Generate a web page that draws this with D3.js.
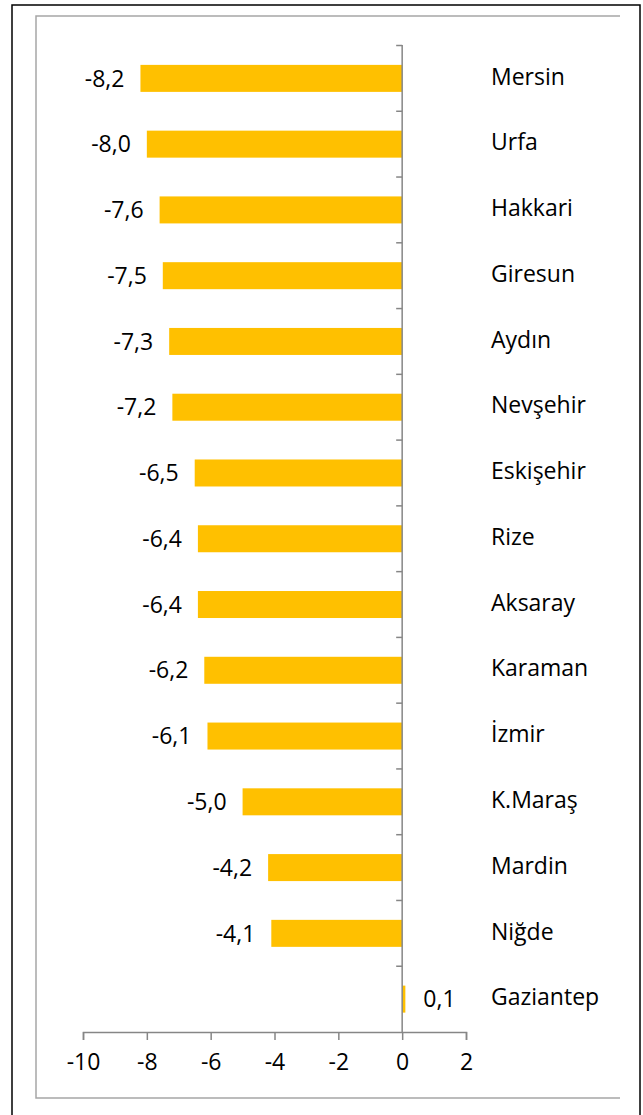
<!DOCTYPE html>
<html>
<head>
<meta charset="utf-8">
<script src="https://cdn.jsdelivr.net/npm/d3@7"></script>
<style>
  body { margin: 0; background: #fff; }
  svg text { font-family: "Open Sans", sans-serif; font-size: 23px; fill: #000; }
</style>
</head>
<body>
<div id="chart"></div>
<script>
// provinces, top to bottom
var provinces = ["Mersin", "Urfa", "Hakkari", "Giresun", "Aydın", "Nevşehir", "Eskişehir",
                 "Rize", "Aksaray", "Karaman", "İzmir", "K.Maraş", "Mardin", "Niğde", "Gaziantep"];
var values = [-8.2, -8.0, -7.6, -7.5, -7.3, -7.2, -6.5, -6.4, -6.4, -6.2, -6.1, -5.0, -4.2, -4.1, 0.1];
var xTicks = [-10, -8, -6, -4, -2, 0, 2];

var W = 643, H = 1115;
var svg = d3.select("#chart").append("svg").attr("width", W).attr("height", H);

// outer black frame
svg.append("rect")
    .attr("x", 12).attr("y", 5)
    .attr("width", 628).attr("height", 1120)
    .attr("fill", "none").attr("stroke", "#000").attr("stroke-width", 1.5);

// inner grey frame (left, top, bottom)
var grey = "#a6a6a6";
svg.append("path")
    .attr("d", "M620,16H36V1098H620")
    .attr("fill", "none").attr("stroke", grey).attr("stroke-width", 1.5);

var x = d3.scaleLinear().domain([-10, 2]).range([83, 466]);
var y = d3.scaleBand().domain(provinces).range([45.5, 1032]).paddingInner(0).paddingOuter(0);
var barH = 27;
var axisCol = "#868686";

// bars
svg.selectAll("rect.bar")
    .data(values)
  .enter().append("rect")
    .attr("class", "bar")
    .attr("x", function(d) { return x(Math.min(0, d)); })
    .attr("y", function(d, i) { return y(provinces[i]) + y.bandwidth() / 2 - barH / 2; })
    .attr("width", function(d) { return Math.abs(x(d) - x(0)); })
    .attr("height", barH)
    .attr("fill", "#FFC000");

// value labels
svg.selectAll("text.val")
    .data(values)
  .enter().append("text")
    .attr("class", "val")
    .attr("x", function(d) { return d < 0 ? x(d) - 16 : x(d) + 18; })
    .attr("y", function(d, i) { return y(provinces[i]) + y.bandwidth() / 2 + 2; })
    .attr("dominant-baseline", "middle")
    .attr("text-anchor", function(d) { return d < 0 ? "end" : "start"; })
    .text(function(d) { return d3.format(".1f")(d).replace(".", ",").replace("−", "-"); });

// category labels
svg.selectAll("text.cat")
    .data(provinces)
  .enter().append("text")
    .attr("class", "cat")
    .attr("x", 491)
    .attr("y", function(d) { return y(d) + y.bandwidth() / 2; })
    .attr("dominant-baseline", "middle")
    .text(function(d) { return d; });

// vertical axis at zero, ticks on band edges
var vAxis = svg.append("g");
vAxis.append("line")
    .attr("x1", x(0)).attr("x2", x(0))
    .attr("y1", 45).attr("y2", 1032)
    .attr("stroke", axisCol).attr("stroke-width", 1.5);
vAxis.selectAll("line.tk")
    .data(provinces)
  .enter().append("line")
    .attr("class", "tk")
    .attr("x1", x(0) - 6).attr("x2", x(0))
    .attr("y1", function(d) { return y(d); })
    .attr("y2", function(d) { return y(d); })
    .attr("stroke", axisCol).attr("stroke-width", 1.5);

// horizontal axis
var xAxis = d3.axisBottom(x)
    .tickValues(xTicks)
    .tickSize(8)
    .tickPadding(14)
    .tickFormat(function(d) { return String(d); });
var gx = svg.append("g")
    .attr("transform", "translate(0,1032)")
    .call(xAxis);
gx.select(".domain").attr("stroke", axisCol).attr("stroke-width", 1.5);
gx.selectAll(".tick line").attr("stroke", axisCol).attr("stroke-width", 1.5);
gx.selectAll(".tick text")
    .attr("font-family", "Open Sans, sans-serif")
    .attr("font-size", 23)
    .attr("fill", "#000");
</script>
</body>
</html>
